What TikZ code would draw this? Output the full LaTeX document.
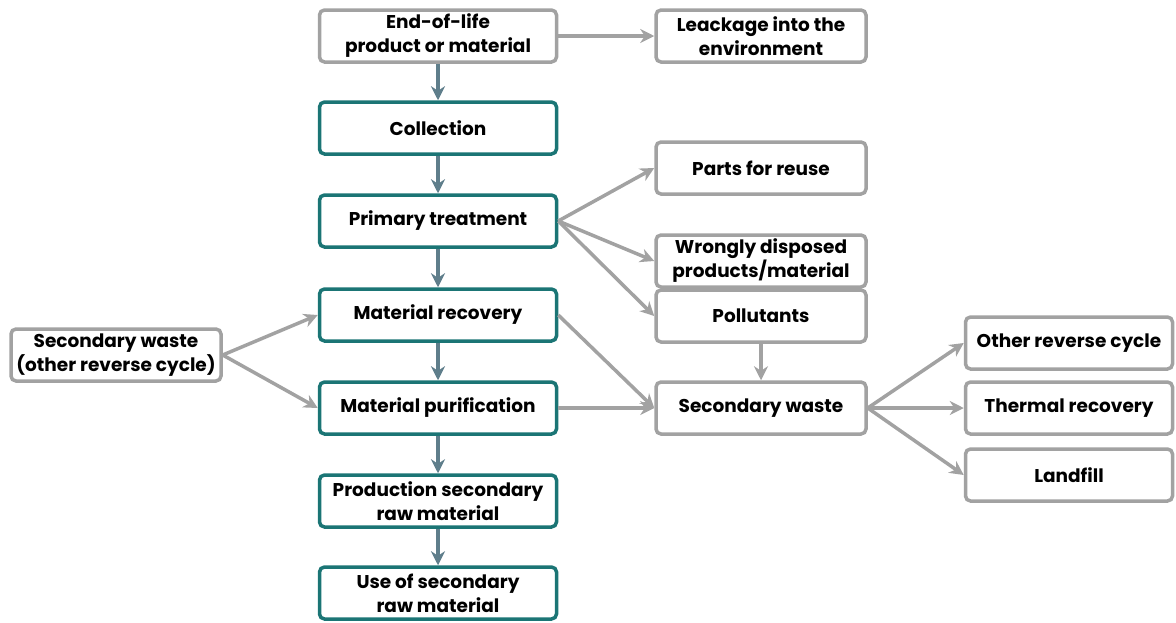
\documentclass[tikz,border=0pt]{standalone}
\usepackage{fontspec}
\setmainfont{Poppins}
\usetikzlibrary{arrows.meta}

\definecolor{tealbox}{HTML}{1B7575}
\definecolor{graybox}{HTML}{A2A2A2}
\definecolor{steel}{HTML}{5F7E8B}

\tikzset{
    box/.style={rounded corners=5pt, line width=3.5pt, fill=white, minimum height=52pt,
        inner sep=1pt, align=center, font=\fontsize{18.5}{24}\selectfont\bfseries},
    mainbox/.style={box, draw=tealbox, minimum width=237pt},
    sidebox/.style={box, draw=graybox, minimum width=210pt},
    flow/.style={-{Stealth[length=14pt, width=14pt]}, line width=3.5pt, draw=steel},
    branch/.style={-{Stealth[length=14pt, width=14pt]}, line width=3.5pt, draw=graybox}
}

\begin{document}
\begin{tikzpicture}[x=1pt, y=-1pt]
    \useasboundingbox (0,0) rectangle (1176,622);

    % Draw nodes
    \node[sidebox, minimum width=237pt] (eol) at (438,36) {End-of-life\\product or material};
    \node[sidebox] (leak) at (761,36) {Leackage into the\\environment};
    \node[mainbox] (collect) at (438,128) {Collection};
    \node[mainbox] (primary) at (438,221) {Primary treatment};
    \node[mainbox] (recovery) at (438,315) {Material recovery};
    \node[mainbox] (purify) at (438,408) {Material purification};
    \node[mainbox] (prodraw) at (438,501) {Production secondary\\raw material};
    \node[mainbox] (useraw) at (438,593) {Use of secondary\\raw material};
    \node[sidebox] (secother) at (116,355) {Secondary waste\\(other reverse cycle)};
    \node[sidebox] (parts) at (761,168) {Parts for reuse};
    \node[sidebox] (wrong) at (761,261) {Wrongly disposed\\products/material};
    \node[sidebox] (pollut) at (761,316) {Pollutants};
    \node[sidebox] (secwaste) at (761,408) {Secondary waste};
    \node[sidebox, minimum width=207pt] (otherrev) at (1069,343) {Other reverse cycle};
    \node[sidebox, minimum width=207pt] (thermal) at (1069,408) {Thermal recovery};
    \node[sidebox, minimum width=207pt] (landfill) at (1069,475) {Landfill};

    % Draw main flow
    \draw[flow] (eol) -- (collect);
    \draw[flow] (collect) -- (primary);
    \draw[flow] (primary) -- (recovery);
    \draw[flow] (recovery) -- (purify);
    \draw[flow] (purify) -- (prodraw);
    \draw[flow] (prodraw) -- (useraw);

    % Draw side flows
    \draw[branch] (eol) -- (leak);
    \draw[branch] (primary.east) -- (parts.west);
    \draw[branch] (primary.east) -- (wrong.west);
    \draw[branch] (primary.east) -- (pollut.west);
    \draw[branch] (secother.east) -- (recovery.west);
    \draw[branch] (secother.east) -- (purify.west);
    \draw[branch] (recovery.east) -- (secwaste.west);
    \draw[branch] (purify) -- (secwaste);
    \draw[branch] (pollut) -- (secwaste);
    \draw[branch] (secwaste.east) -- (otherrev.west);
    \draw[branch] (secwaste) -- (thermal);
    \draw[branch] (secwaste.east) -- (landfill.west);
\end{tikzpicture}
\end{document}
